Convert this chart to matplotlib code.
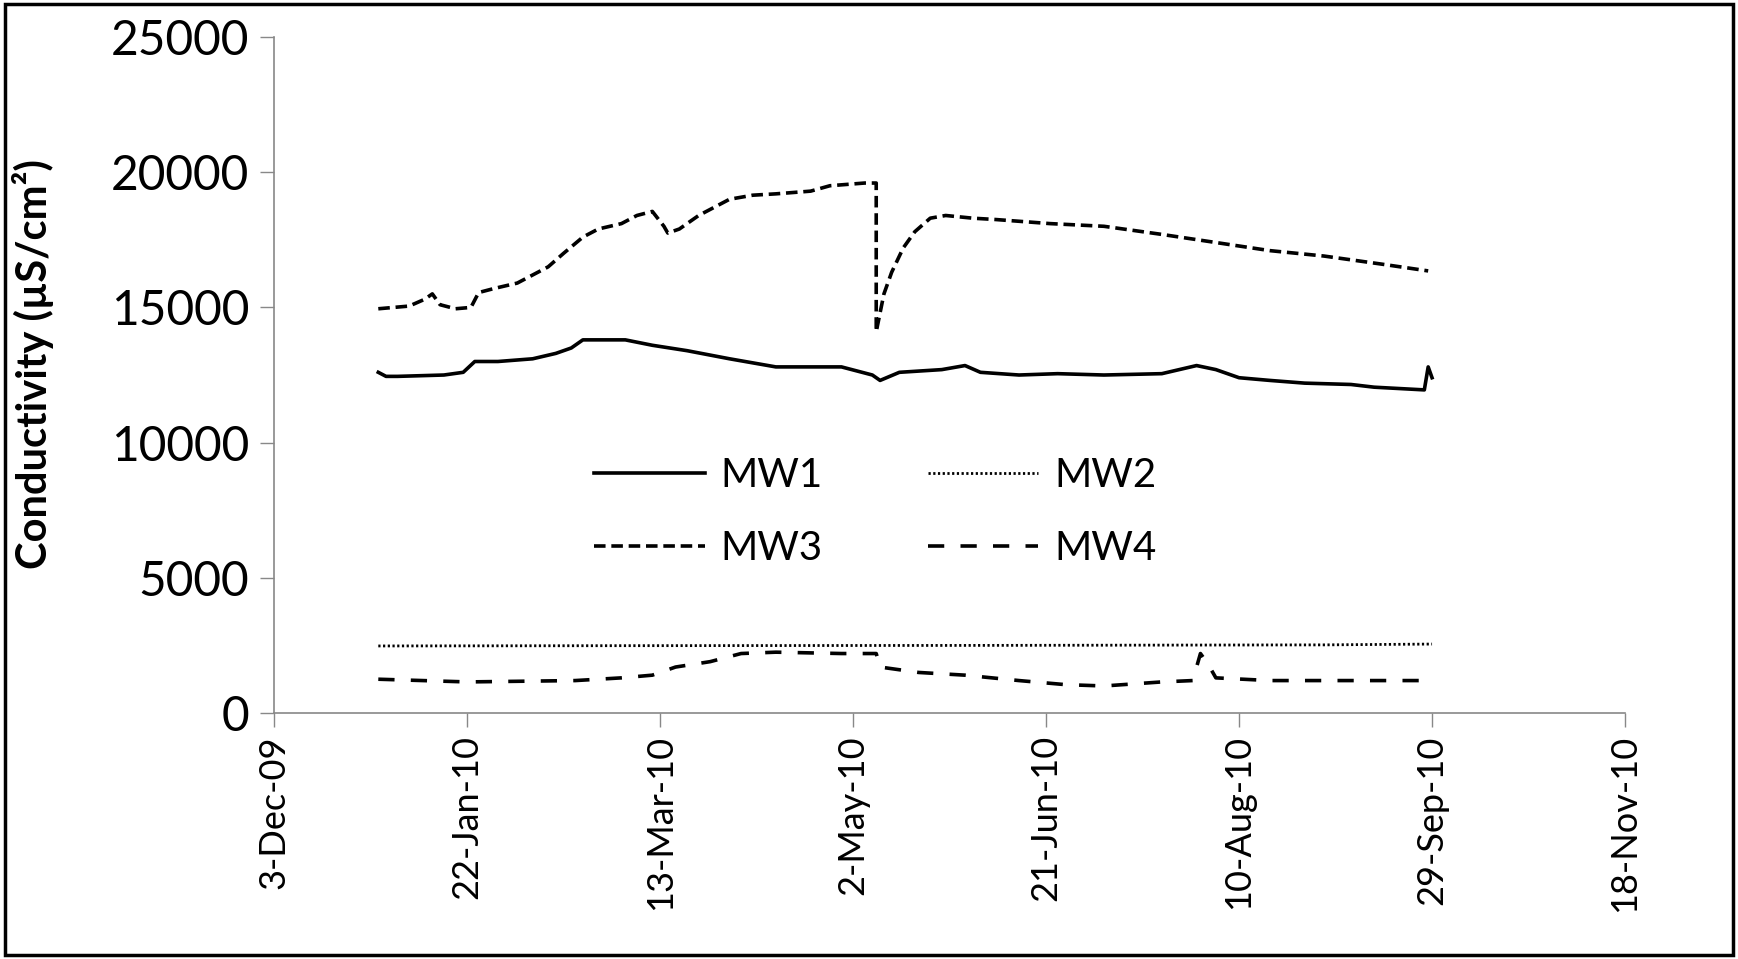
import matplotlib.pyplot as plt
import matplotlib.dates as mdates
from matplotlib.patches import Rectangle
import numpy as np
from datetime import datetime, timedelta

# MW1 readings
mw1_dates = ["2009-12-30", "2010-01-01", "2010-01-04", "2010-01-16", "2010-01-21", "2010-01-24",
             "2010-01-30", "2010-02-08", "2010-02-14", "2010-02-18", "2010-02-21", "2010-02-26",
             "2010-03-04", "2010-03-11", "2010-03-20", "2010-03-31", "2010-04-12", "2010-04-29",
             "2010-05-07", "2010-05-09", "2010-05-14", "2010-05-25", "2010-05-31", "2010-06-04",
             "2010-06-14", "2010-06-24", "2010-07-06", "2010-07-21", "2010-07-30", "2010-08-04",
             "2010-08-10", "2010-08-18", "2010-08-27", "2010-09-08", "2010-09-14", "2010-09-27",
             "2010-09-28", "2010-09-29"]
mw1_vals = [12600, 12450, 12450, 12500, 12600, 13000,
            13000, 13100, 13300, 13500, 13800, 13800,
            13800, 13600, 13400, 13100, 12800, 12800,
            12500, 12300, 12600, 12700, 12850, 12600,
            12500, 12550, 12500, 12550, 12850, 12700,
            12400, 12300, 12200, 12150, 12050, 11950,
            12800, 12400]

# MW2 readings
mw2_dates = ["2009-12-30", "2010-03-01", "2010-06-01", "2010-09-01", "2010-09-29"]
mw2_vals = [2480, 2490, 2500, 2520, 2550]

# MW3 readings
mw3_dates = ["2009-12-30", "2010-01-07", "2010-01-11", "2010-01-13", "2010-01-15", "2010-01-19",
             "2010-01-23", "2010-01-25", "2010-01-29", "2010-02-04", "2010-02-08", "2010-02-12",
             "2010-02-16", "2010-02-21", "2010-02-25", "2010-03-03", "2010-03-07", "2010-03-11",
             "2010-03-14", "2010-03-15", "2010-03-18", "2010-03-23", "2010-03-27", "2010-03-31",
             "2010-04-06", "2010-04-12", "2010-04-21", "2010-04-26", "2010-05-05", "2010-05-08",
             "2010-05-08", "2010-05-10", "2010-05-12", "2010-05-15", "2010-05-18", "2010-05-22",
             "2010-05-26", "2010-06-02", "2010-06-08", "2010-06-22", "2010-07-06", "2010-07-21",
             "2010-08-04", "2010-08-18", "2010-09-01", "2010-09-16", "2010-09-28"]
mw3_vals = [14950, 15050, 15300, 15500, 15100, 14950,
            15000, 15550, 15700, 15900, 16200, 16500,
            17000, 17600, 17900, 18100, 18400, 18550,
            18000, 17750, 17900, 18400, 18700, 19000,
            19150, 19200, 19300, 19500, 19600, 19600,
            14100, 15500, 16300, 17200, 17800, 18300,
            18400, 18300, 18250, 18100, 18000, 17700,
            17400, 17100, 16900, 16600, 16350]

# MW4 readings
mw4_dates = ["2009-12-30", "2010-01-22", "2010-02-19", "2010-03-03", "2010-03-11", "2010-03-17",
             "2010-03-26", "2010-04-03", "2010-04-12", "2010-04-29", "2010-05-08", "2010-05-09",
             "2010-05-19", "2010-05-31", "2010-06-14", "2010-06-26", "2010-07-06", "2010-07-21",
             "2010-07-29", "2010-07-31", "2010-08-02", "2010-08-04", "2010-08-18", "2010-09-28"]
mw4_vals = [1250, 1150, 1200, 1300, 1400, 1700,
            1900, 2200, 2250, 2200, 2200, 1700,
            1500, 1400, 1200, 1050, 1000, 1150,
            1200, 2200, 1800, 1300, 1200, 1200]

series_names = ["MW1", "MW2", "MW3", "MW4"]

plt.rcParams['font.family'] = ['Lato', 'DejaVu Sans']

fig = plt.figure(figsize=(17.38, 9.59), dpi=100)
ax = fig.add_axes([0.1577, 0.2565, 0.935 - 0.1577, 0.9614 - 0.2565])

def to_dates(lst):
    return [datetime.strptime(s, "%Y-%m-%d") for s in lst]

l1, = ax.plot(to_dates(mw1_dates), mw1_vals, color='black', lw=2.6, linestyle='-', label=series_names[0])
l2, = ax.plot(to_dates(mw2_dates), mw2_vals, color='black', lw=2.0, linestyle=(0, (0.8, 0.9)), label=series_names[1])
l3, = ax.plot(to_dates(mw3_dates), mw3_vals, color='black', lw=2.6, linestyle=(0, (3.2, 1.6)), label=series_names[2])
l4, = ax.plot(to_dates(mw4_dates), mw4_vals, color='black', lw=2.6, linestyle=(0, (4.5, 4.5)), label=series_names[3])

start = datetime(2009, 12, 3)
ticks = [start + timedelta(days=50 * k) for k in range(8)]
ax.set_xlim(ticks[0], ticks[-1])
ax.set_xticks(ticks)
ax.xaxis.set_major_formatter(plt.FuncFormatter(
    lambda v, pos: "{}-{}".format(mdates.num2date(v).day, mdates.num2date(v).strftime("%b-%y"))))
ax.set_ylim(0, 25000)
ax.set_yticks(np.arange(0, 25001, 5000))

ax.tick_params(axis='x', labelsize=26, rotation=90, direction='out', length=10, width=1, color='#888888', pad=6)
ax.tick_params(axis='y', labelsize=34.5, direction='out', length=10, width=1, color='#888888', pad=8)

for s in ['top', 'right']:
    ax.spines[s].set_visible(False)
for s in ['left', 'bottom']:
    ax.spines[s].set_color('#888888')
    ax.spines[s].set_linewidth(1.2)

fig.text(0.019, 0.62, "Conductivity (µS/cm²)", rotation=90, fontsize=30, fontweight='bold',
         ha='center', va='center')

# legend reads row by row: MW1 MW2 / MW3 MW4
ax.legend([l1, l3, l2, l4], [series_names[0], series_names[2], series_names[1], series_names[3]],
          ncol=2, loc='center', bbox_to_anchor=(0.445, 0.297), frameon=False, fontsize=29,
          handlelength=2.75, handletextpad=0.4, columnspacing=2.6, labelspacing=0.9)

# border around the figure
fig.patches.append(Rectangle((0.003, 0.004), 0.994, 0.992, transform=fig.transFigure,
                             fill=False, edgecolor='black', lw=2.5))

fig.savefig("out.png", dpi=100)
